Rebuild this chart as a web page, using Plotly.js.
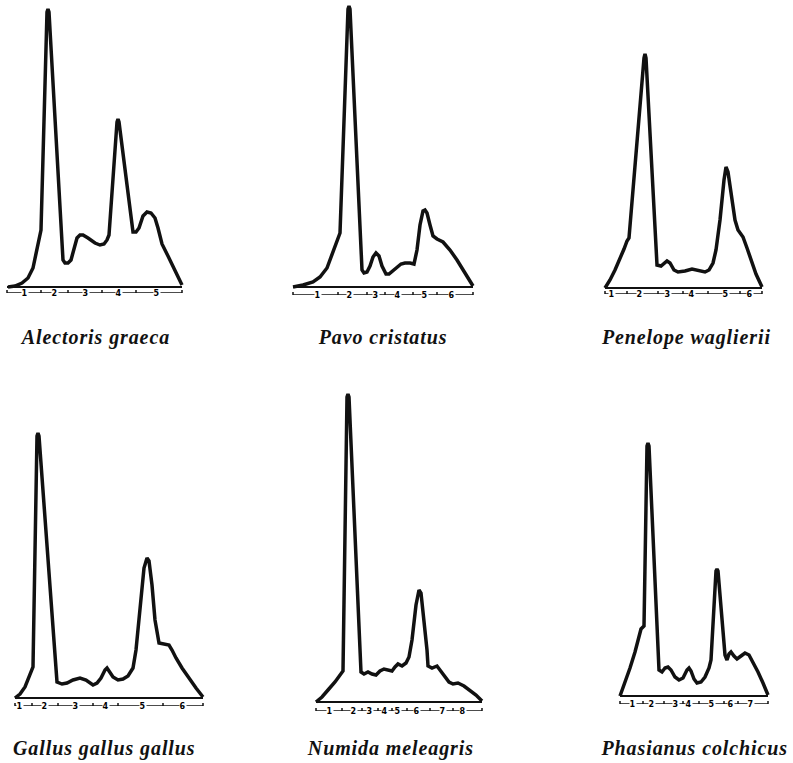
<!DOCTYPE html>
<html>
<head>
<meta charset="utf-8">
<script src="https://cdn.plot.ly/plotly-3.0.1.min.js"></script>
<style>
html,body{margin:0;padding:0;background:#fff;}
#chart{width:793px;height:763px;}
#chart .annotation-text{letter-spacing:0.9px;}
</style>
</head>
<body>
<div id="chart"></div>
<script>
// Species (panel captions)
const species = ["Alectoris graeca", "Pavo cristatus", "Penelope waglierii",
                 "Gallus gallus gallus", "Numida meleagris", "Phasianus colchicus"];

// Densitometer traces: x = distance along strip, y = optical density (arbitrary units)
const x1 = [1,8,15,21,26,29,31,34,40,41,42,56,58,61,64,67,70,73,76,81,88,93,97,100,102,110,111,112,126,129,132,136,140,144,148,151,155,161,169,175];
const y1 = [0,1,4,9,19,35,45,57,275,278,275,27,24,24,27,39,49,52,52,49,44,42,43,47,52,165,168,165,55,55,59,71,75,74,69,59,43,31,15,2];

const x2 = [0,10,20,27,34,39,42,45,47,55,56,57,69,71,74,77,80,83,86,89,93,96,100,104,108,112,117,121,124,127,130,132,134,137,140,144,150,157,164,172,180];
const y2 = [0,2,5,10,19,32,42,50,54,278,281,278,17,14,15,21,30,34,31,21,13,13,16,20,23,24,24,23,37,62,76,77,74,62,51,48,45,37,27,14,1];

const x3 = [0,5,10,15,19,22,24,39,40,41,52,56,59,62,65,69,73,80,87,94,100,104,108,111,115,119,121,123,126,130,133,138,142,146,151,157];
const y3 = [0,8,18,29,39,47,50,230,234,230,23,22,25,27,25,18,16,17,19,17,16,18,25,38,68,108,121,116,93,68,58,51,40,28,14,1];

const x4 = [0,5,10,14,17,18,22,23,24,42,47,52,58,65,71,78,82,86,90,92,94,98,103,108,113,118,121,125,129,132,134,137,140,144,149,154,157,161,167,175,181,188];
const y4 = [0,4,11,20,28,31,262,265,262,16,14,15,18,20,18,13,15,20,28,30,27,21,18,19,22,30,48,88,130,140,137,113,78,55,54,53,48,40,30,18,10,1];

const x5 = [0,6,12,19,27,31,32,33,45,48,52,56,60,64,68,72,76,79,82,86,90,93,96,100,103,105,108,111,112,116,121,125,129,133,137,142,148,154,160,166];
const y5 = [0,5,12,20,31,305,308,305,30,28,30,28,27,31,33,32,31,35,38,36,39,45,62,97,112,109,82,52,36,34,36,31,26,20,18,19,16,12,7,1];

const x6 = [0,5,10,15,19,21,24,27,28,29,39,42,45,48,51,55,59,63,67,69,71,74,77,81,85,89,91,96,97,98,105,107,109,111,114,117,121,125,129,133,138,143,148];
const y6 = [0,13,28,44,61,67,70,250,253,250,26,24,28,29,26,19,16,18,26,28,25,17,13,14,19,28,36,125,127,125,41,36,42,44,40,37,40,43,41,34,24,13,1];

// Fraction scale under each strip: labels, label positions, separator positions
const fracLabels1 = ["1","2","3","4","5"];
const fracPos1 = [18,48,79,112,150];
const sepPos1 = [34,61,95,129];

const fracLabels2 = ["1","2","3","4","5","6"];
const fracPos2 = [25,57,83,105,132,159];
const sepPos2 = [45,74,92,120,144];

const fracLabels3 = ["1","2","3","4","5","6"];
const fracPos3 = [7,35,63,87,121,145];
const sepPos3 = [22,53,78,103,135];

const fracLabels4 = ["1","2","3","4","5","6"];
const fracPos4 = [5,30,61,91,128,168];
const sepPos4 = [17,43,78,103,148];

const fracLabels5 = ["1","2","3","4","5","6","7","8"];
const fracPos5 = [14,38,54,69,82,101,127,147];
const sepPos5 = [26,46,62,76,91,114,137];

const fracLabels6 = ["1","2","3","4","5","6","7"];
const fracPos6 = [13,32,56,69,92,111,131];
const sepPos6 = [23,44,63,79,104,118];

// ---- layout geometry (pixels) ----
const W = 793, H = 763;
const panels = [
  {x: x1, y: y1, lab: fracLabels1, lp: fracPos1, sp: sepPos1, left: 7,   len: 175, base: 287, off: 6, top: 0,   cx: 95,  cy: 337},
  {x: x2, y: y2, lab: fracLabels2, lp: fracPos2, sp: sepPos2, left: 293, len: 180, base: 287, off: 8, top: 0,   cx: 382, cy: 337},
  {x: x3, y: y3, lab: fracLabels3, lp: fracPos3, sp: sepPos3, left: 605, len: 157, base: 288, off: 6, top: 0,   cx: 686, cy: 337},
  {x: x4, y: y4, lab: fracLabels4, lp: fracPos4, sp: sepPos4, left: 15,  len: 188, base: 698, off: 8, top: 380, cx: 104, cy: 748},
  {x: x5, y: y5, lab: fracLabels5, lp: fracPos5, sp: sepPos5, left: 316, len: 166, base: 702, off: 9, top: 380, cx: 390, cy: 748},
  {x: x6, y: y6, lab: fracLabels6, lp: fracPos6, sp: sepPos6, left: 620, len: 148, base: 696, off: 8, top: 380, cx: 694, cy: 748}
];

const data = [];
const layout = {
  width: W, height: H,
  margin: {l: 0, r: 0, t: 0, b: 0},
  paper_bgcolor: "#fff", plot_bgcolor: "rgba(0,0,0,0)",
  showlegend: false,
  annotations: []
};

panels.forEach((p, i) => {
  const n = i + 1;
  const xa = n === 1 ? "x" : "x" + n;
  const ya = n === 1 ? "y" : "y" + n;
  const xk = n === 1 ? "xaxis" : "xaxis" + n;
  const yk = n === 1 ? "yaxis" : "yaxis" + n;
  const pad = 3;
  layout[xk] = {
    domain: [(p.left - pad) / W, (p.left + p.len + pad) / W],
    range: [-pad, p.len + pad],
    anchor: ya, showgrid: false, zeroline: false,
    showline: false, showticklabels: false, ticks: ""
  };
  layout[yk] = {
    domain: [1 - (p.base + p.off) / H, 1 - p.top / H],
    range: [-p.off, p.base - p.top],
    anchor: xa, showgrid: false, zeroline: false,
    showline: false, showticklabels: false, ticks: ""
  };
  // scale line with end bars and separators
  data.push({type: "scatter", mode: "lines", x: [0, p.len], y: [-p.off, -p.off],
    xaxis: xa, yaxis: ya, line: {color: "#111", width: 1.5}, hoverinfo: "skip"});
  const tx = [], ty = [];
  [0].concat(p.sp, [p.len]).forEach(v => { tx.push(v, v, null); ty.push(-p.off - 3, -p.off + 3, null); });
  data.push({type: "scatter", mode: "lines", x: tx, y: ty,
    xaxis: xa, yaxis: ya, line: {color: "#111", width: 1.5}, hoverinfo: "skip"});
  // baseline of the trace
  data.push({type: "scatter", mode: "lines", x: [0, p.len], y: [0, 0],
    xaxis: xa, yaxis: ya, line: {color: "#111", width: 2}, hoverinfo: "skip"});
  // densitometer trace
  data.push({type: "scatter", mode: "lines", x: p.x, y: p.y,
    xaxis: xa, yaxis: ya, line: {color: "#111", width: 3.5, shape: "linear"}, hoverinfo: "skip"});
  // fraction numbers on the scale
  p.lab.forEach((t, k) => {
    layout.annotations.push({xref: xa, yref: ya, x: p.lp[k], y: -p.off, text: "<b>" + t + "</b>",
      showarrow: false, bgcolor: "#fff", borderpad: 0,
      font: {family: "DejaVu Sans", size: 8, color: "#000"}});
  });
  // species caption
  layout.annotations.push({xref: "paper", yref: "paper", x: p.cx / W, y: 1 - p.cy / H,
    xanchor: "center", yanchor: "middle", showarrow: false,
    text: "<b><i>" + species[i] + "</i></b>",
    font: {family: "Liberation Serif", size: 20, color: "#111"}});
});

Plotly.newPlot("chart", data, layout, {staticPlot: true});
</script>
</body>
</html>
